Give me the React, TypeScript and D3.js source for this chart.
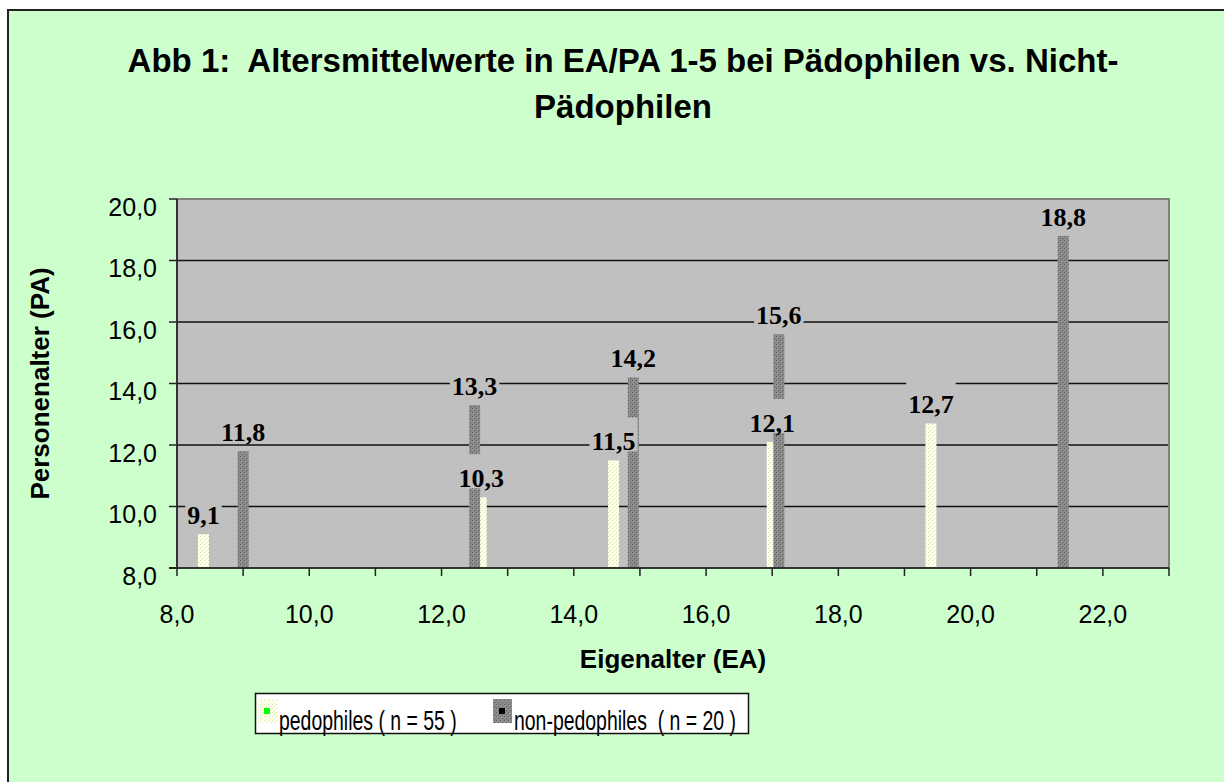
import React, { useEffect, useRef } from "react";
import * as d3 from "d3";

// EA = Eigenalter (x), PA = Personenalter (y)
const pedoEA = [8.4, 12.6, 14.6, 17.0, 19.4];
const pedoPA = [9.1, 10.3, 11.5, 12.1, 12.7];
const nonPedoEA = [9.0, 12.5, 14.9, 17.1, 21.4];
const nonPedoPA = [11.8, 13.3, 14.2, 15.6, 18.8];

const xTicks = [8, 9, 10, 11, 12, 13, 14, 15, 16, 17, 18, 19, 20, 21, 22, 23];
const xTickLabels = [8, 10, 12, 14, 16, 18, 20, 22];
const yTicks = [8, 10, 12, 14, 16, 18, 20];

const titleLines = ["Abb 1:  Altersmittelwerte in EA/PA 1-5 bei Pädophilen vs. Nicht-", "Pädophilen"];
const legendLabels = ["pedophiles ( n = 55 )", "non-pedophiles  ( n = 20 )"];

const W = 1224;
const H = 782;

export default function App() {
    const ref = useRef<SVGSVGElement>(null);

    useEffect(() => {
        const svg = d3.select(ref.current);
        svg.selectAll("*").remove();

        const fmt = (v: number) => d3.format(".1f")(v).replace(".", ",");
        const sans = "'Liberation Sans', Arial, sans-serif";
        const serif = "'Liberation Serif', 'Times New Roman', serif";

        const x = d3.scaleLinear().domain([8, 23]).range([177, 1169]);
        const y = d3.scaleLinear().domain([8, 20]).range([568, 199]);

        // patterns
        const defs = svg.append("defs");
        const pY = defs.append("pattern").attr("id", "pYellow")
            .attr("width", 4).attr("height", 4).attr("patternUnits", "userSpaceOnUse");
        pY.append("rect").attr("width", 4).attr("height", 4).attr("fill", "#fffff2");
        pY.append("rect").attr("x", 0).attr("y", 0).attr("width", 1).attr("height", 1).attr("fill", "#d6e6a0");
        pY.append("rect").attr("x", 2).attr("y", 2).attr("width", 1).attr("height", 1).attr("fill", "#d6e6a0");
        pY.append("rect").attr("x", 1).attr("y", 3).attr("width", 1).attr("height", 1).attr("fill", "#eef5c8");

        const pG = defs.append("pattern").attr("id", "pGray")
            .attr("width", 4).attr("height", 4).attr("patternUnits", "userSpaceOnUse");
        pG.append("rect").attr("width", 4).attr("height", 4).attr("fill", "#8a8a8a");
        pG.append("rect").attr("x", 0).attr("y", 0).attr("width", 1).attr("height", 1).attr("fill", "#5e5e5e");
        pG.append("rect").attr("x", 2).attr("y", 2).attr("width", 1).attr("height", 1).attr("fill", "#5e5e5e");
        pG.append("rect").attr("x", 1).attr("y", 1).attr("width", 1).attr("height", 1).attr("fill", "#a8a8a8");

        // page + chart area
        svg.append("rect").attr("width", W).attr("height", H).attr("fill", "#ffffff");
        svg.append("rect")
            .attr("x", 8).attr("y", 10).attr("width", W + 20).attr("height", H + 20)
            .attr("fill", "#ccffcc").attr("stroke", "#222").attr("stroke-width", 2);

        // title
        svg.selectAll(".title")
            .data(titleLines)
            .enter()
            .append("text")
                .attr("x", 623)
                .attr("y", (d, i) => 72 + i * 46)
                .attr("text-anchor", "middle")
                .style("font-family", sans)
                .style("font-weight", "bold")
                .style("font-size", "33px")
                .style("white-space", "pre")
                .text(d => d);

        // plot area
        svg.append("rect")
            .attr("x", x(8)).attr("y", y(20))
            .attr("width", x(23) - x(8)).attr("height", y(8) - y(20))
            .attr("fill", "#c0c0c0");

        svg.selectAll(".grid")
            .data(yTicks.filter(t => t > 8 && t < 20))
            .enter()
            .append("line")
                .attr("x1", x(8)).attr("x2", x(23))
                .attr("y1", d => y(d)).attr("y2", d => y(d))
                .style("stroke", "#111").style("stroke-width", 1.5);

        // bars (drop bars from value to the x axis)
        const bw = 11;
        const pedo = pedoEA.map((ea, i) => ({ ea, pa: pedoPA[i] }));
        const nonPedo = nonPedoEA.map((ea, i) => ({ ea, pa: nonPedoPA[i] }));

        svg.selectAll(".barP")
            .data(pedo)
            .enter()
            .append("rect")
                .attr("x", d => x(d.ea) - bw / 2)
                .attr("y", d => y(d.pa))
                .attr("width", bw)
                .attr("height", d => y(8) - y(d.pa) - 1)
                .style("fill", "url(#pYellow)");

        svg.selectAll(".barN")
            .data(nonPedo)
            .enter()
            .append("rect")
                .attr("x", d => x(d.ea) - bw / 2)
                .attr("y", d => y(d.pa))
                .attr("width", bw)
                .attr("height", d => y(8) - y(d.pa) - 1)
                .style("fill", "url(#pGray)");

        // value labels with opaque boxes
        const all = pedo.concat(nonPedo);
        all.forEach(d => {
            const g = svg.append("g");
            const bx = g.append("rect").style("fill", "#c0c0c0");
            const t = g.append("text")
                .attr("x", x(d.ea))
                .attr("y", y(d.pa) - 10)
                .attr("text-anchor", "middle")
                .style("font-family", serif)
                .style("font-weight", "bold")
                .style("font-size", "26px")
                .text(fmt(d.pa));
            const tw = (t.node() as SVGTextElement).getComputedTextLength();
            const top = Math.max(y(d.pa) - 10 - 33, y(20) + 2);
            bx.attr("x", x(d.ea) - tw / 2 - 2)
                .attr("y", top)
                .attr("width", tw + 4)
                .attr("height", y(d.pa) - 9 - top);
        });

        // plot border (top / right) drawn over the labels
        svg.append("polyline")
            .attr("points", [[x(8), y(20)], [x(23), y(20)], [x(23), y(8)]].map(p => p.join(",")).join(" "))
            .attr("fill", "none").attr("stroke", "#808080").attr("stroke-width", 2);

        // axes
        svg.append("line")
            .attr("x1", x(8)).attr("x2", x(8)).attr("y1", y(20)).attr("y2", y(8))
            .style("stroke", "#333").style("stroke-width", 2);
        svg.append("line")
            .attr("x1", x(8) - 8).attr("x2", x(23)).attr("y1", y(8)).attr("y2", y(8))
            .style("stroke", "#333").style("stroke-width", 2);

        svg.selectAll(".ytick")
            .data(yTicks)
            .enter()
            .append("line")
                .attr("x1", x(8) - 8).attr("x2", x(8))
                .attr("y1", d => y(d)).attr("y2", d => y(d))
                .style("stroke", "#222").style("stroke-width", 1.5);

        svg.selectAll(".ylab")
            .data(yTicks)
            .enter()
            .append("text")
                .attr("x", 157)
                .attr("y", d => y(d) + 16.5)
                .attr("text-anchor", "end")
                .style("font-family", sans)
                .style("font-size", "25px")
                .text(d => fmt(d));

        svg.selectAll(".xtick")
            .data(xTicks)
            .enter()
            .append("line")
                .attr("x1", d => x(d)).attr("x2", d => x(d))
                .attr("y1", y(8)).attr("y2", y(8) + 8)
                .style("stroke", "#222").style("stroke-width", 1.5);

        svg.selectAll(".xlab")
            .data(xTickLabels)
            .enter()
            .append("text")
                .attr("x", d => x(d))
                .attr("y", 623)
                .attr("text-anchor", "middle")
                .style("font-family", sans)
                .style("font-size", "25px")
                .text(d => fmt(d));

        svg.append("text")
            .attr("x", 673).attr("y", 668)
            .attr("text-anchor", "middle")
            .style("font-family", sans).style("font-weight", "bold").style("font-size", "26px")
            .text("Eigenalter (EA)");

        svg.append("text")
            .attr("transform", "translate(49," + (y(14)) + ") rotate(-90)")
            .attr("text-anchor", "middle")
            .style("font-family", sans).style("font-weight", "bold").style("font-size", "26px")
            .text("Personenalter (PA)");

        // legend
        svg.append("rect")
            .attr("x", 255.5).attr("y", 693.5).attr("width", 493).attr("height", 40)
            .attr("fill", "#ffffff").attr("stroke", "#111").attr("stroke-width", 1.5);

        const legend = [
            { sw: 258, inner: "#00ff00", fill: "url(#pYellow)", tx: 279 },
            { sw: 493, inner: "#000000", fill: "url(#pGray)", tx: 514 },
        ];
        legend.forEach((l, i) => {
            svg.append("rect")
                .attr("x", l.sw).attr("y", 699).attr("width", 19).attr("height", 24)
                .style("fill", l.fill);
            svg.append("rect")
                .attr("x", l.sw + 6).attr("y", 708).attr("width", 6).attr("height", 6)
                .style("fill", l.inner);
            svg.append("text")
                .attr("transform", "translate(" + l.tx + ",730) scale(0.72,1)")
                .style("font-family", sans)
                .style("font-size", "27px")
                .style("white-space", "pre")
                .text(legendLabels[i]);
        });
    }, []);

    return (
        <svg ref={ref} width={W} height={H}
            style={{ position: "absolute", left: 0, top: 0, display: "block" }}></svg>
    );
}
